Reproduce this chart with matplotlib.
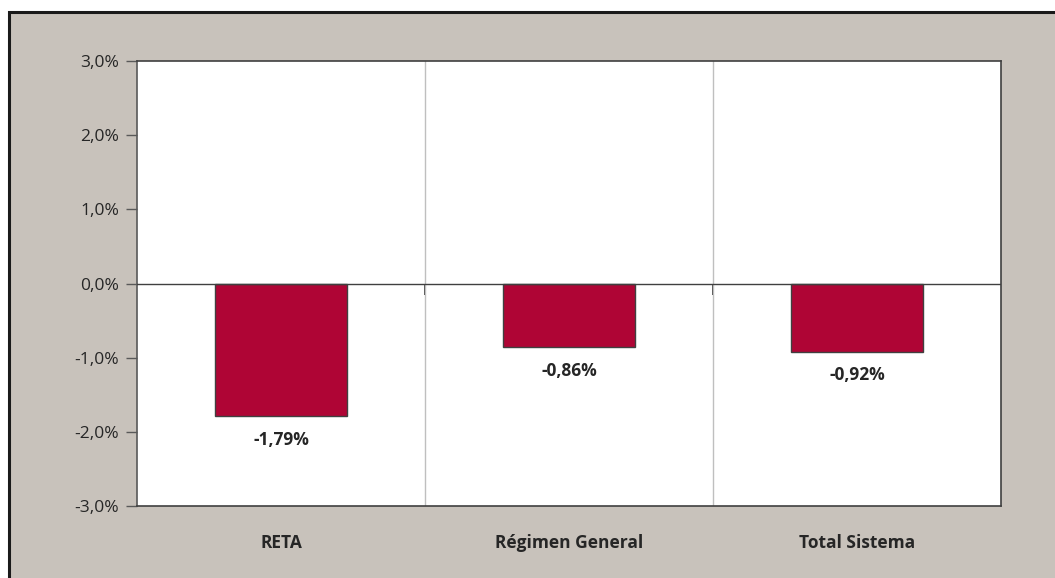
import matplotlib
matplotlib.use("Agg")
from matplotlib import pyplot as plt
from matplotlib.patches import Rectangle

categories = ["RETA", "Régimen General", "Total Sistema"]
values = [-1.79, -0.86, -0.92]
value_labels = ["-1,79%", "-0,86%", "-0,92%"]
y_ticks = [-3, -2, -1, 0, 1, 2, 3]
y_tick_labels = ["-3,0%", "-2,0%", "-1,0%", "0,0%", "1,0%", "2,0%", "3,0%"]

plt.rcParams['font.family'] = ['Open Sans', 'DejaVu Sans']
text_col = '#262626'
fs = 12.5

fig = plt.figure(figsize=(10.55, 5.78), dpi=100, facecolor='white')
fig.patches.append(Rectangle((0.009, -0.05), 1.1, 1.029, transform=fig.transFigure,
                             facecolor='#C8C2BB', edgecolor='#1a1a1a', linewidth=2.2,
                             zorder=-10))

ax = fig.add_axes([137 / 1055, 72 / 578, 864 / 1055, 445 / 578])
ax.set_zorder(5)
ax.set_facecolor('white')

x = list(range(len(categories)))
bars = ax.bar(x, values, width=0.46, color='#AF0535', edgecolor='#404040',
              linewidth=1.0, zorder=3)

for b, lab in zip(bars, value_labels):
    ax.annotate(lab, (b.get_x() + b.get_width() / 2, b.get_height()),
                xytext=(0, -17), textcoords='offset points', ha='center', va='center',
                fontsize=fs, fontweight='bold', color=text_col)

ax.set_xlim(-0.5, 2.5)
ax.set_ylim(-3, 3)
ax.set_yticks(y_ticks)
ax.set_yticklabels(y_tick_labels, fontsize=fs, color=text_col)
ax.tick_params(axis='y', direction='out', length=8, width=1, color='#595959', pad=5)

ax.set_xticks(x)
ax.set_xticklabels(categories, fontsize=fs, fontweight='bold', color=text_col)
ax.tick_params(axis='x', length=0, pad=20)
ax.set_xticks([0.5, 1.5], minor=True)
ax.tick_params(axis='x', which='minor', length=0)
ax.grid(True, axis='x', which='minor', color='#BFBFBF', linewidth=1, zorder=1)

ax.axhline(0, color='#404040', linewidth=1, zorder=4)
sec = ax.secondary_xaxis(0.5)
sec.set_xticks([0.5, 1.5])
sec.xaxis.set_ticks_position('bottom')
sec.tick_params(direction='out', length=8, width=1.2, color='#262626',
                labelbottom=False, labeltop=False)
sec.spines['bottom'].set_visible(False)
sec.spines['top'].set_visible(False)

for s in ['top', 'right', 'bottom']:
    ax.spines[s].set_color('#404040')
    ax.spines[s].set_linewidth(1.2)
ax.spines['left'].set_color('#595959')
ax.spines['left'].set_linewidth(1.2)

plt.savefig("out.png", dpi=100, facecolor=fig.get_facecolor())
